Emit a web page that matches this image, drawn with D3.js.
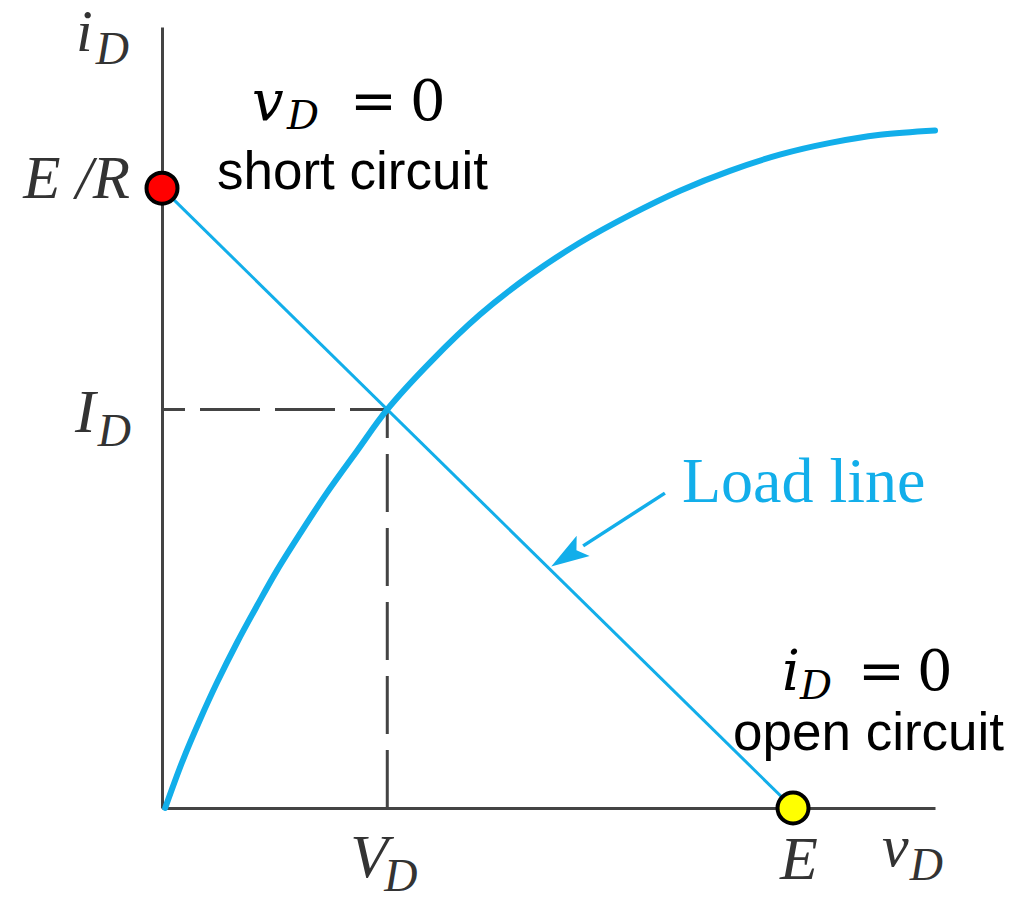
<!DOCTYPE html>
<html>
<head>
<meta charset="utf-8">
<script src="https://cdn.jsdelivr.net/npm/d3@7"></script>
<style>
  body { margin: 0; background: #fff; }
  svg { display: block; }
</style>
</head>
<body>
<svg width="1017" height="897"></svg>
<script>
// diode characteristic i_D(v_D) (E = 10, E/R = 10)
const curveV = [0.05, 0.33, 0.60, 0.87, 1.19, 1.51, 1.82, 2.19, 2.61, 3.09, 3.57, 4.25, 5.04, 5.83, 6.62, 7.42, 8.21, 9.00, 9.79, 10.59, 11.38, 12.25];
const curveI = [0.00, 0.77, 1.42, 2.02, 2.67, 3.27, 3.83, 4.43, 5.08, 5.76, 6.43, 7.19, 7.96, 8.59, 9.12, 9.57, 9.96, 10.28, 10.54, 10.73, 10.86, 10.93];

const E = 10;        // open-circuit voltage
const ER = 10;       // short-circuit current E/R
const VD = 3.57;     // operating point
const ID = ER - VD;

const xTicks = [{ v: VD, main: "V", sub: "D" }, { v: E, main: "E", sub: "" }];
const yTicks = [{ i: ER, main: "E /R", sub: "" }, { i: ID, main: "I", sub: "D" }];

const svg = d3.select("svg");
const blue = "#12aeea";
const axisGray = "#444";
const serif = "'Liberation Serif', 'DejaVu Serif', serif";
const mathFont = "'DejaVu Serif', serif";
const sans = "'Liberation Sans', Arial, sans-serif";

const x = d3.scaleLinear().domain([0, 12.25]).range([162, 935]);
const y = d3.scaleLinear().domain([0, 12.6]).range([808, 27]);

// axes, no ticks
const xAxis = d3.axisBottom(x).tickValues([]).tickSizeOuter(0);
const yAxis = d3.axisLeft(y).tickValues([]).tickSizeOuter(0);
svg.append("g").attr("transform", `translate(0,${y(0)})`).call(xAxis)
  .select(".domain").attr("stroke", axisGray).attr("stroke-width", 3);
svg.append("g").attr("transform", `translate(${x(0)},0)`).call(yAxis)
  .select(".domain").attr("stroke", axisGray).attr("stroke-width", 3);

// dashed guides to operating point
svg.append("line")
  .attr("x1", x(0)).attr("y1", y(ID)).attr("x2", x(VD)).attr("y2", y(ID))
  .attr("stroke", axisGray).attr("stroke-width", 3)
  .attr("stroke-dasharray", "60,15").attr("stroke-dashoffset", 37);
svg.append("line")
  .attr("x1", x(VD)).attr("y1", y(0)).attr("x2", x(VD)).attr("y2", y(ID))
  .attr("stroke", axisGray).attr("stroke-width", 3)
  .attr("stroke-dasharray", "58,16");

// diode curve
const pts = curveV.map((v, k) => [v, curveI[k]]);
const line = d3.line().x(d => x(d[0])).y(d => y(d[1])).curve(d3.curveCatmullRom.alpha(0.5));
svg.append("path").datum(pts)
  .attr("d", line).attr("fill", "none")
  .attr("stroke", blue).attr("stroke-width", 6).attr("stroke-linecap", "round");

// load line
svg.append("line")
  .attr("x1", x(0)).attr("y1", y(ER)).attr("x2", x(E)).attr("y2", y(0))
  .attr("stroke", blue).attr("stroke-width", 3);

// arrow to load line
const tail = [x(7.97), y(5.08)];
const tip = [x(6.2) - 2, y(ER - 6.2) - 6];
const ang = Math.atan2(tip[1] - tail[1], tip[0] - tail[0]);
const hl = 38, hw = 12;
const base = [tip[0] - hl * Math.cos(ang), tip[1] - hl * Math.sin(ang)];
svg.append("line")
  .attr("x1", tail[0]).attr("y1", tail[1]).attr("x2", base[0]).attr("y2", base[1])
  .attr("stroke", blue).attr("stroke-width", 3.5);
svg.append("path")
  .attr("d", `M${tip[0]},${tip[1]}L${base[0] - hw * Math.sin(ang)},${base[1] + hw * Math.cos(ang)}L${base[0] + 8 * Math.cos(ang)},${base[1] + 8 * Math.sin(ang)}L${base[0] + hw * Math.sin(ang)},${base[1] - hw * Math.cos(ang)}Z`)
  .attr("fill", blue);
svg.append("text").attr("x", 682).attr("y", 502)
  .attr("font-family", serif).attr("font-size", 64).attr("fill", blue)
  .text("Load line");

// end points
svg.append("circle").attr("cx", x(0)).attr("cy", y(ER)).attr("r", 15.5)
  .attr("fill", "#ff0000").attr("stroke", "#000").attr("stroke-width", 4);
svg.append("circle").attr("cx", x(E)).attr("cy", y(0)).attr("r", 15.5)
  .attr("fill", "#ffff00").attr("stroke", "#000").attr("stroke-width", 4);

// italic label with subscript helper
function label(tx, ty, main, sub, anchor, size, subSize, dy, dx) {
  const t = svg.append("text").attr("x", tx).attr("y", ty)
    .attr("text-anchor", anchor).attr("font-family", serif)
    .attr("font-style", "italic").attr("fill", "#333");
  t.append("tspan").attr("font-size", size).text(main);
  if (sub) t.append("tspan").attr("font-size", subSize).attr("dy", dy).attr("dx", dx || 0).text(sub);
  return t;
}

// tick labels
xTicks.forEach(d => {
  if (d.sub) label(x(d.v) - 37, 877, d.main, d.sub, "start", 62, 46, 14, -4);
  else label(x(d.v) + 6, 879, d.main, "", "middle", 62);
});
yTicks.forEach(d => {
  if (d.sub) label(131, y(d.i) + 23, d.main, d.sub, "end", 62, 46, 14, 2);
  else label(130, y(d.i) + 10, d.main, "", "end", 61);
});

// axis titles
label(76, 51, "i", "D", "start", 60, 46, 13, 3);
label(882, 866, "v", "D", "start", 60, 46, 14, 1);

// math annotations, each piece placed along the baseline
function mathLabel(xs, ty, v) {
  const t = svg.append("text").attr("y", ty).attr("font-family", mathFont).attr("fill", "#000");
  t.append("tspan").attr("x", xs[0]).attr("font-style", "italic").attr("font-size", 56).text(v);
  t.append("tspan").attr("x", xs[1]).attr("dy", 9).attr("font-style", "italic").attr("font-size", 40).text("D");
  t.append("tspan").attr("x", xs[2]).attr("dy", -9).attr("font-size", 56).text("=");
  t.append("tspan").attr("x", xs[3]).attr("font-size", 56).text("0");
}
mathLabel([252, 287, 350, 410], 120, "v");
mathLabel([782, 800, 858, 917], 690, "i");

svg.append("text").attr("x", 217).attr("y", 189)
  .attr("font-family", sans).attr("font-size", 53).attr("fill", "#000")
  .text("short circuit");
svg.append("text").attr("x", 733).attr("y", 750)
  .attr("font-family", sans).attr("font-size", 53).attr("fill", "#000")
  .text("open circuit");
</script>
</body>
</html>
